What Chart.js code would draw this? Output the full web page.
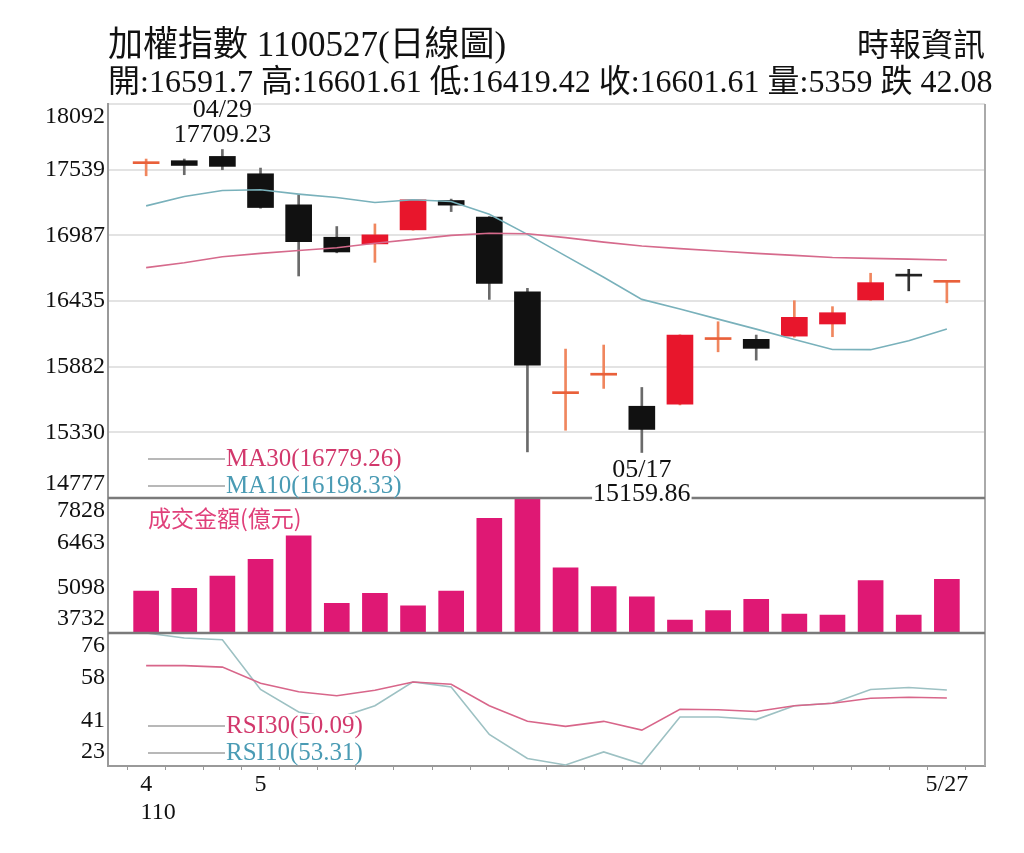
<!DOCTYPE html>
<html><head><meta charset="utf-8">
<script src="https://cdn.jsdelivr.net/npm/chart.js@4"></script>
<style>
html,body{margin:0;padding:0;background:#fff;}
#wrap{position:relative;width:1024px;height:853px;overflow:hidden;background:#fff;}
#c{position:absolute;left:0;top:0;}
.hd{position:absolute;white-space:nowrap;color:#111;font-family:"Liberation Serif","Noto Sans CJK TC",serif;}
</style></head><body>
<div id="wrap">
<canvas id="c" width="1024" height="853"></canvas>
<div class="hd" style="left:108px;top:26px;font-size:35px;line-height:38px;">加權指數 1100527(日線圖)</div>
<div class="hd" style="right:39px;top:27px;font-size:32px;line-height:36px;">時報資訊</div>
<div class="hd" style="left:108px;top:63px;font-size:32px;line-height:36px;">開:16591.7 高:16601.61 低:16419.42 收:16601.61 量:5359 跌 42.08</div>
</div>
<script>
const categories = ['4/28','4/29','4/30','5/3','5/4','5/5','5/6','5/7','5/10','5/11','5/12','5/13','5/14','5/17','5/18','5/19','5/20','5/21','5/24','5/25','5/26','5/27'];
const openVals  = [17590, 17615, 17651, 17505, 17244, 16971, 16915, 17033, 17280, 17140, 16512, 15655, 15810, 15549, 15566, 16110, 16112, 16139, 16241, 16443, 16650, 16591.7];
const highVals  = [17629, 17629, 17709.23, 17553, 17328, 17061, 17083, 17290, 17292, 17145, 16541, 16030, 16064, 15707, 16150, 16260, 16148, 16437, 16387, 16668, 16701, 16601.61];
const lowVals   = [17488, 17497, 17539, 17215, 16645, 16840, 16760, 17030, 17187, 16448, 15165, 15347, 15699, 15159.86, 15560, 16007, 15937, 16130, 16134, 16440, 16520, 16419.42];
const closeVals = [17600, 17575, 17567, 17221, 16934, 16847, 16991, 17286, 17241, 16583, 15894, 15670, 15827, 15353.89, 16147, 16125, 16036, 16297, 16336, 16589, 16643.69, 16601.61];
const ma30Vals  = [16715, 16757, 16807, 16835, 16860, 16883, 16920, 16953, 16987, 17004, 17000, 16968, 16930, 16897, 16875, 16855, 16835, 16818, 16801, 16793, 16787, 16779.26];
const ma10Vals  = [17235, 17314, 17364, 17370, 17334, 17305, 17263, 17286, 17272, 17165, 16995, 16814, 16634, 16448, 16367, 16282, 16198, 16111, 16027, 16025, 16100, 16198.33];
const volumeVals = [5006, 5088, 5461, 5968, 6684, 4633, 4936, 4560, 5006, 7212, 7828, 5713, 5137, 4833, 4126, 4409, 4754, 4308, 4278, 5319, 4278, 5359];
const rsi30Vals = [63, 63, 62.4, 56, 52.6, 51, 53.2, 56.5, 55.6, 47, 40.8, 38.8, 40.8, 37.3, 45.6, 45.4, 44.7, 47, 48, 50, 50.4, 50.09];
const rsi10Vals = [76, 74, 73.3, 53.5, 44.5, 42, 47, 56.5, 54.5, 35.6, 26, 23.4, 28.6, 23.8, 42.5, 42.5, 41.5, 47, 48, 53.5, 54.3, 53.31];
const priceTicks  = [14777, 15330, 15882, 16435, 16987, 17539, 18092];
const volumeTicks = [3732, 5098, 6463, 7828];
const rsiTicks    = [23, 41, 58, 76];
const xTickIndex = [0, 3, 21];
const xTickText  = [['4', '110'], ['5'], ['5/27']];
const highNote = ['04/29', '17709.23'];
const lowNote  = ['05/17', '15159.86'];
const maLegend  = ['MA30(16779.26)', 'MA10(16198.33)'];
const rsiLegend = ['RSI30(50.09)', 'RSI10(53.31)'];
const volTitle  = '成交金額(億元)';

const N = categories.length;
const pad = a => [null, ...a, null];
const labels = ['', ...categories, ''];
const isUp = i => closeVals[i] >= openVals[i];
const isDoji = i => Math.abs(closeVals[i] - openVals[i]) < 30;
const bodyColor = ctx => {
  const i = ctx.dataIndex - 1;
  if (i < 0 || i >= N) return 'rgba(0,0,0,0)';
  if (isDoji(i)) return isUp(i) ? '#e9603a' : '#222';
  return isUp(i) ? '#e8162c' : '#111';
};
const wickColor = ctx => {
  const i = ctx.dataIndex - 1;
  if (i < 0 || i >= N) return 'rgba(0,0,0,0)';
  if (isDoji(i) && !isUp(i)) return '#333';
  return isUp(i) ? '#f0865e' : '#6a6a6a';
};
const SERIF = '"Liberation Serif", serif';
const tickFont = {family: SERIF, size: 24};

function fixedTicks(arr) { return s => { s.ticks = arr.map(v => ({value: v})); }; }

const endShift = {
  id: 'endShift',
  beforeDraw(chart) {
    ['yMain', 'yVol', 'yRsi'].forEach(id => {
      const s = chart.scales[id];
      if (!s || s._endPatched || typeof s._computeLabelItems !== 'function') return;
      s._endPatched = true;
      const orig = s._computeLabelItems;
      s._computeLabelItems = function (ca) {
        const items = orig.call(this, ca);
        items.forEach(it => {
          const t = it.options && it.options.translation;
          if (!t) return;
          if (Math.abs(t[1] - this.top) < 2) t[1] += 13;
          else if (Math.abs(t[1] - this.bottom) < 2) t[1] -= 14;
        });
        return items;
      };
      s._labelItems = null;
    });
  }
};

const panels = {
  id: 'panels',
  afterDatasetsDraw(chart) {
    const {ctx, chartArea} = chart;
    const yv = chart.scales.yVol, yr = chart.scales.yRsi;
    ctx.save();
    ctx.strokeStyle = '#aaa';
    ctx.lineWidth = 2;
    ctx.beginPath();
    ctx.moveTo(chartArea.right, chartArea.top);
    ctx.lineTo(chartArea.right, chartArea.bottom);
    ctx.stroke();
    ctx.strokeStyle = '#7a7a7a';
    ctx.lineWidth = 2.5;
    [yv.top, yr.top].forEach(y => {
      ctx.beginPath();
      ctx.moveTo(chartArea.left, y);
      ctx.lineTo(chartArea.right, y);
      ctx.stroke();
    });
    ctx.restore();
  },
  afterDraw(chart) {
    const {ctx, chartArea} = chart;
    const xs = chart.scales.x, ym = chart.scales.yMain, yv = chart.scales.yVol, yr = chart.scales.yRsi;
    const L = chartArea.left;
    ctx.save();
    function bgText(t, x, y, align, base) {
      ctx.textAlign = align; ctx.textBaseline = base;
      const w = ctx.measureText(t).width;
      const x0 = align === 'center' ? x - w / 2 : x;
      const y0 = base === 'alphabetic' ? y - 19 : y - 12;
      ctx.fillStyle = '#fff';
      ctx.fillRect(x0 - 1, y0, w + 2, 23);
    }
    ctx.font = '26px ' + SERIF;
    const hi = highVals.indexOf(Math.max(...highVals));
    const lo = lowVals.indexOf(Math.min(...lowVals));
    const xh = xs.getPixelForValue(hi + 1), yh = ym.getPixelForValue(highVals[hi]);
    const xl = xs.getPixelForValue(lo + 1), yl = ym.getPixelForValue(lowVals[lo]);
    const notes = [[highNote[0], xh, yh - 32], [highNote[1], xh, yh - 7], [lowNote[0], xl, yl + 25], [lowNote[1], xl, yl + 49]];
    notes.forEach(([t, x, y]) => {
      bgText(t, x, y, 'center', 'alphabetic');
      ctx.fillStyle = '#111';
      ctx.fillText(t, x, y);
    });
    ctx.font = '25px ' + SERIF;
    const items = [
      [maLegend[0], '#d2386c', ym.bottom - 39, false],
      [maLegend[1], '#4a9bb4', ym.bottom - 12, false],
      [rsiLegend[0], '#d2386c', yr.bottom - 40, true],
      [rsiLegend[1], '#4a9bb4', yr.bottom - 13, false]
    ];
    items.forEach(([t, c, y, bg]) => {
      ctx.strokeStyle = '#a0a0a0';
      ctx.lineWidth = 1.5;
      ctx.beginPath();
      ctx.moveTo(L + 40, y);
      ctx.lineTo(L + 117, y);
      ctx.stroke();
      if (bg) bgText(t, L + 118, y, 'left', 'middle');
      ctx.textAlign = 'left'; ctx.textBaseline = 'middle';
      ctx.fillStyle = c;
      ctx.fillText(t, L + 118, y);
    });
    ctx.font = '23px "Noto Sans CJK TC"';
    ctx.fillStyle = '#e0407a';
    ctx.textAlign = 'left'; ctx.textBaseline = 'middle';
    ctx.fillText(volTitle, L + 40, yv.top + 20);
    ctx.restore();
  }
};

const lineDs = (label, data, axis, color, order) => ({
  type: 'line', label, data: pad(data), yAxisID: axis, borderColor: color, borderWidth: 1.6,
  pointRadius: 0, tension: 0, fill: false, order
});

const yTicks = {padding: 3, color: '#111', font: tickFont, autoSkip: false, callback: v => String(v)};

new Chart(document.getElementById('c'), {
  type: 'bar',
  data: {
    labels,
    datasets: [
      lineDs('MA30', ma30Vals, 'yMain', '#d66a8c', 0),
      lineDs('MA10', ma10Vals, 'yMain', '#79b1bb', 0),
      {type: 'bar', label: 'body', data: pad(openVals.map((o, i) => [o, closeVals[i]])), yAxisID: 'yMain',
        backgroundColor: bodyColor, barThickness: 26, minBarLength: 2, grouped: false, order: 1},
      {type: 'bar', label: 'wick', data: pad(lowVals.map((l, i) => [l, highVals[i]])), yAxisID: 'yMain',
        backgroundColor: wickColor, barThickness: 2, grouped: false, order: 2},
      {type: 'bar', label: '成交金額', data: pad(volumeVals), yAxisID: 'yVol',
        backgroundColor: '#df1874', barThickness: 25, grouped: false, order: 1},
      lineDs('RSI30', rsi30Vals, 'yRsi', '#d8668a', 0),
      lineDs('RSI10', rsi10Vals, 'yRsi', '#9dc1c3', 0)
    ]
  },
  options: {
    responsive: false,
    animation: false,
    layout: {padding: {top: 104, right: 39, bottom: 0, left: 0}},
    plugins: {legend: {display: false}, tooltip: {enabled: false}},
    scales: {
      x: {
        type: 'category', offset: false,
        grid: {drawOnChartArea: false, drawTicks: true, tickLength: 4, color: '#999'},
        border: {display: true, color: '#999', width: 2},
        ticks: {
          autoSkip: false, maxRotation: 0, minRotation: 0, padding: 0, color: '#111', font: tickFont,
          callback: (v, index) => {
            const k = xTickIndex.indexOf(index - 1);
            if (k < 0) return '';
            const t = xTickText[k];
            return t.length > 1 ? [t[0], '    ' + t[1]] : t[0];
          }
        },
        afterFit: s => { s.height = 87; }
      },
      yMain: {
        type: 'linear', position: 'left', stack: 'panels', stackWeight: 394, weight: 3,
        min: 14777, max: 18092, afterBuildTicks: fixedTicks(priceTicks),
        grid: {color: '#e3e3e3', lineWidth: 2, drawTicks: false},
        border: {display: true, color: '#999', width: 2},
        ticks: yTicks,
        afterFit: s => { s.width = 108; }
      },
      yVol: {
        type: 'linear', position: 'left', stack: 'panels', stackWeight: 135, weight: 2,
        min: 3732, max: 7828, afterBuildTicks: fixedTicks(volumeTicks),
        grid: {display: false, drawTicks: false},
        border: {display: true, color: '#999', width: 2},
        ticks: yTicks,
        afterFit: s => { s.width = 108; }
      },
      yRsi: {
        type: 'linear', position: 'left', stack: 'panels', stackWeight: 133, weight: 1,
        min: 23, max: 76, afterBuildTicks: fixedTicks(rsiTicks),
        grid: {display: false, drawTicks: false},
        border: {display: true, color: '#999', width: 2},
        ticks: yTicks,
        afterFit: s => { s.width = 108; }
      }
    }
  },
  plugins: [endShift, panels]
});
</script>
</body></html>
